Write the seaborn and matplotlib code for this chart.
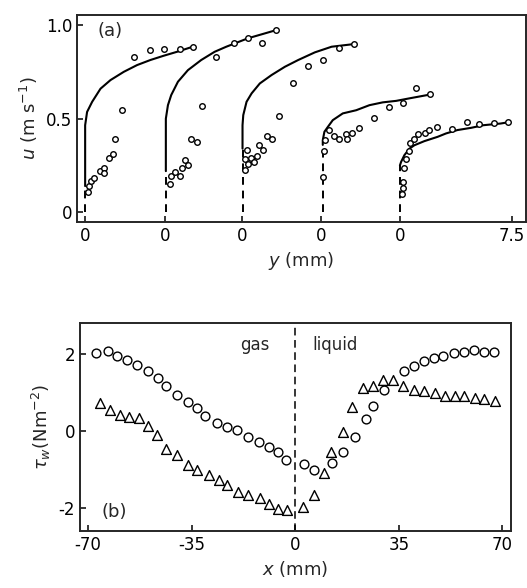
import seaborn as sns
import matplotlib.pyplot as plt

# ---- (a) velocity profiles: y measured from the wall of each profile (mm) ----
offsets = [0, 5.36, 10.52, 15.81, 21.1]
x_ticklabels = ["0", "0", "0", "0", "0", "7.5"]
wall_u = [0.14, 0.22, 0.34, 0.36, 0.25]

p1_y = [0.2, 0.24, 0.40, 0.58, 0.98, 1.29, 1.29, 1.58, 1.85, 1.99, 2.48, 3.30, 4.33, 5.31, 6.36, 7.21]
p1_u = [0.109, 0.141, 0.166, 0.183, 0.219, 0.234, 0.212, 0.290, 0.309, 0.394, 0.545, 0.830, 0.866, 0.872, 0.872, 0.884]
c1_y = [0, 0, 0.13, 0.47, 1.03, 1.70, 2.59, 3.48, 4.37, 5.27, 6.16, 7.21]
c1_u = [0.14, 0.465, 0.536, 0.59, 0.66, 0.706, 0.75, 0.786, 0.813, 0.836, 0.857, 0.884]

p2_y = [0.30, 0.41, 0.64, 0.97, 1.13, 1.35, 1.53, 1.75, 2.16, 2.47, 3.43, 4.59, 5.55, 6.50, 7.46]
p2_u = [0.153, 0.194, 0.216, 0.194, 0.237, 0.278, 0.255, 0.389, 0.376, 0.569, 0.830, 0.902, 0.929, 0.905, 0.973]
c2_y = [0.05, 0.05, 0.19, 0.41, 0.86, 1.53, 2.42, 3.32, 4.10, 5.55, 7.46]
c2_u = [0.22, 0.50, 0.572, 0.626, 0.697, 0.759, 0.813, 0.857, 0.884, 0.929, 0.973]

p3_y = [0.2, 0.2, 0.34, 0.38, 0.60, 0.82, 1.0, 1.16, 1.43, 1.68, 1.99, 2.5, 3.40, 4.44, 5.45, 6.52, 7.48]
p3_u = [0.225, 0.283, 0.335, 0.26, 0.29, 0.266, 0.301, 0.362, 0.335, 0.408, 0.39, 0.515, 0.691, 0.782, 0.813, 0.875, 0.898]
c3_y = [0.03, 0.03, 0.08, 0.30, 0.64, 1.19, 1.98, 2.87, 3.76, 4.88, 6.0, 7.48]
c3_u = [0.34, 0.465, 0.519, 0.59, 0.635, 0.688, 0.733, 0.777, 0.813, 0.854, 0.884, 0.898]

p4_y = [0.12, 0.17, 0.30, 0.57, 0.90, 1.24, 1.69, 1.73, 2.09, 2.58, 3.58, 4.54, 5.48, 6.37, 7.33]
p4_u = [0.186, 0.326, 0.385, 0.439, 0.408, 0.394, 0.416, 0.394, 0.421, 0.448, 0.506, 0.56, 0.581, 0.661, 0.629]
c4_y = [0.12, 0.12, 0.23, 0.46, 0.79, 1.46, 2.36, 3.25, 4.14, 5.04, 5.9, 7.33]
c4_u = [0.36, 0.385, 0.43, 0.456, 0.492, 0.528, 0.545, 0.572, 0.587, 0.595, 0.608, 0.629]

p5_y = [0.12, 0.19, 0.19, 0.25, 0.42, 0.64, 0.70, 0.92, 1.24, 1.69, 1.98, 2.49, 3.47, 4.47, 5.28, 6.28, 7.22]
p5_u = [0.096, 0.13, 0.162, 0.237, 0.287, 0.328, 0.371, 0.394, 0.416, 0.426, 0.439, 0.456, 0.444, 0.483, 0.471, 0.478, 0.48]
c5_y = [0.0, 0.08, 0.3, 0.64, 0.97, 1.64, 2.53, 3.09, 3.85, 4.77, 5.6, 6.75, 7.22]
c5_u = [0.25, 0.269, 0.305, 0.34, 0.358, 0.38, 0.403, 0.421, 0.439, 0.451, 0.465, 0.474, 0.48]

pts_y = [p1_y, p2_y, p3_y, p4_y, p5_y]
pts_u = [p1_u, p2_u, p3_u, p4_u, p5_u]
cur_y = [c1_y, c2_y, c3_y, c4_y, c5_y]
cur_u = [c1_u, c2_u, c3_u, c4_u, c5_u]

# ---- (b) wall shear stress ----
x_circ = [-67.2, -63.4, -60.2, -57.0, -53.4, -49.7, -46.5, -43.5, -39.8, -36.4, -33.1, -30.4, -26.5,
          -23.1, -19.7, -16.1, -12.4, -9.0, -5.9, -3.0, 3.0, 6.2, 12.6, 16.0, 20.3, 23.9, 26.2, 30.1,
          36.9, 40.3, 43.7, 46.8, 50.1, 53.6, 57.0, 60.3, 63.8, 67.2]
tau_circ = [2.02, 2.08, 1.95, 1.84, 1.70, 1.54, 1.38, 1.17, 0.94, 0.74, 0.59, 0.37, 0.20,
            0.10, 0.03, -0.15, -0.30, -0.41, -0.55, -0.75, -0.86, -1.03, -0.84, -0.56, -0.15, 0.30, 0.65, 1.06,
            1.54, 1.67, 1.80, 1.89, 1.93, 2.02, 2.03, 2.09, 2.04, 2.04]
x_tri = [-66.0, -62.6, -59.3, -56.2, -52.8, -49.7, -46.8, -43.5, -40.1, -36.4, -33.1, -29.3, -25.9,
         -22.9, -19.2, -16.0, -12.0, -8.7, -5.8, -2.8, 2.8, 6.2, 9.8, 12.0, 16.0, 19.2, 22.8, 26.2,
         29.6, 32.9, 36.5, 40.3, 43.7, 47.1, 50.7, 54.1, 57.2, 60.6, 63.8, 67.4]
tau_tri = [0.72, 0.55, 0.42, 0.35, 0.32, 0.13, -0.10, -0.48, -0.62, -0.88, -1.01, -1.14, -1.29,
           -1.42, -1.58, -1.66, -1.75, -1.90, -2.03, -2.05, -1.98, -1.66, -1.10, -0.56, -0.04, 0.62, 1.11, 1.17,
           1.31, 1.31, 1.17, 1.06, 1.04, 0.98, 0.89, 0.89, 0.89, 0.85, 0.82, 0.76]

sns.set_style("ticks")
plt.rcParams['font.family'] = ['DejaVu Sans']
plt.rcParams['axes.linewidth'] = 1.4
plt.rcParams['axes.unicode_minus'] = False

fig = plt.figure(figsize=(5.27, 5.88), dpi=100)
ax1 = fig.add_axes([0.146, 0.623, 0.852, 0.352])
ax2 = fig.add_axes([0.152, 0.097, 0.818, 0.354])

for off, py, pu, cy, cu, uw in zip(offsets, pts_y, pts_u, cur_y, cur_u, wall_u):
    ax1.plot([off + cy[0], off + cy[0]], [0, uw], color="black", lw=1.4, ls=(0, (4, 3)))
    sns.lineplot(x=[off + v for v in cy], y=cu, sort=False, estimator=None,
                 color="black", lw=1.5, ax=ax1)
    sns.scatterplot(x=[off + v for v in py], y=pu, marker="o", s=16, facecolor="white",
                    edgecolor="black", linewidth=1.0, ax=ax1, zorder=3)

ax1.set_xlim(-0.55, 29.55)
ax1.set_ylim(-0.05, 1.055)
ax1.set_xticks(offsets + [offsets[-1] + 7.5])
ax1.set_xticklabels(x_ticklabels)
ax1.set_yticks([0, 0.5, 1.0])
ax1.set_yticklabels(["0", "0.5", "1.0"])
ax1.set_xlabel("$y$ (mm)", fontsize=13)
ax1.set_ylabel("$u$ (m s$^{-1}$)", fontsize=13)
ax1.text(0.045, 0.92, "(a)", transform=ax1.transAxes, fontsize=13, va="center")

ax2.axvline(0, color="black", lw=1.1, ls=(0, (5, 3)))
sns.scatterplot(x=x_circ, y=tau_circ, marker="o", s=40, facecolor="white",
                edgecolor="black", linewidth=1.0, ax=ax2, zorder=3)
sns.scatterplot(x=x_tri, y=tau_tri, marker="^", s=50, facecolor="white",
                edgecolor="black", linewidth=1.0, ax=ax2, zorder=3)
ax2.set_xlim(-72.7, 73.0)
ax2.set_ylim(-2.6, 2.8)
ax2.set_xticks([-70, -35, 0, 35, 70])
ax2.set_yticks([-2, 0, 2])
ax2.set_xlabel("$x$ (mm)", fontsize=13)
ax2.set_ylabel(r"$\tau_w$(Nm$^{-2}$)", fontsize=13)
ax2.text(-13.5, 2.23, "gas", ha="center", va="center", fontsize=12)
ax2.text(13.4, 2.23, "liquid", ha="center", va="center", fontsize=12)
ax2.text(0.08, 0.09, "(b)", transform=ax2.transAxes, ha="center", va="center", fontsize=13)

for ax in (ax1, ax2):
    for s in ax.spines.values():
        s.set_visible(True)
    ax.tick_params(direction="in", length=4, width=1.1, labelsize=12, colors="black")

fig.savefig("out.png", dpi=100)
